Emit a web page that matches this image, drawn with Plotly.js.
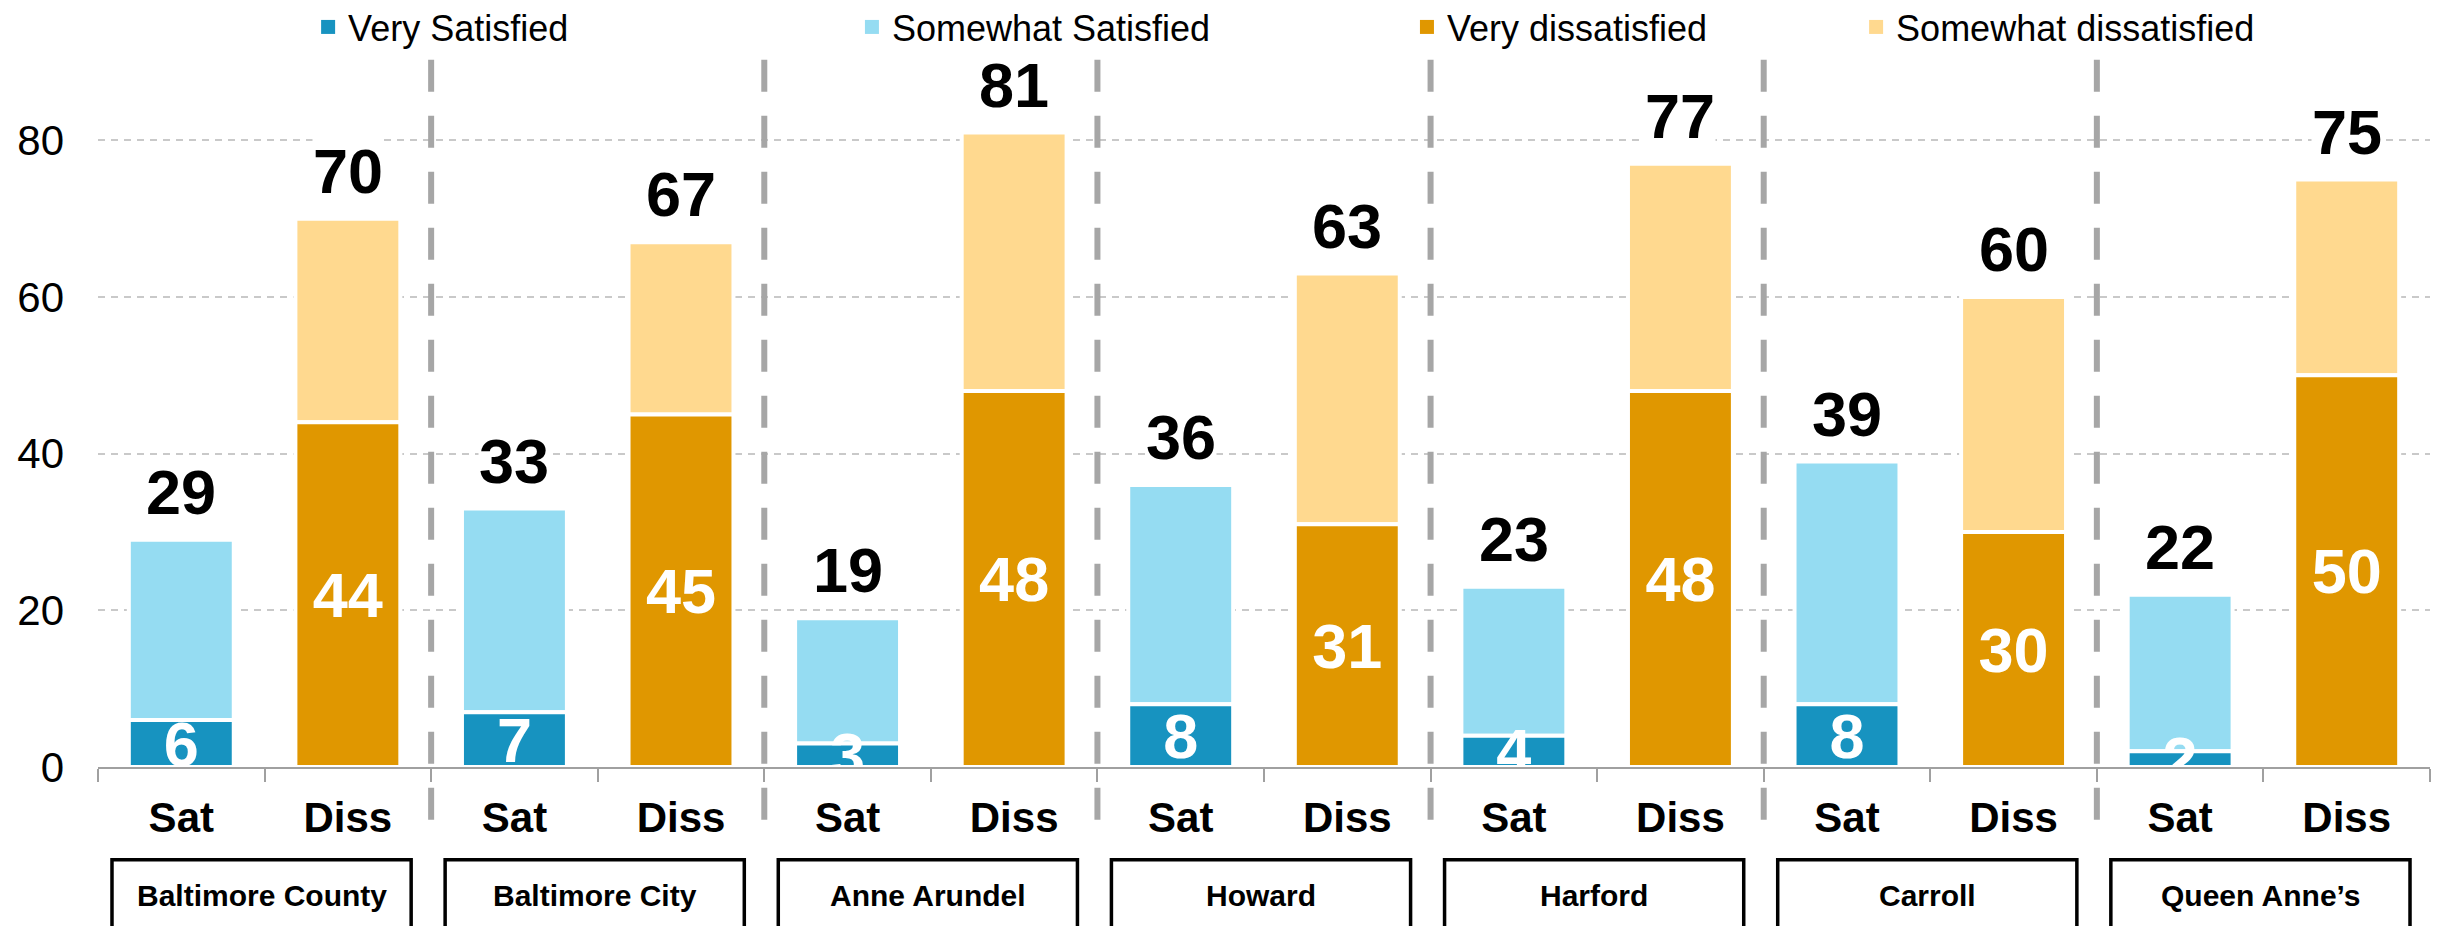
<!DOCTYPE html>
<html>
<head>
<meta charset="utf-8">
<script src="https://cdn.plot.ly/plotly-3.0.1.min.js"></script>
<style>html,body{margin:0;padding:0;background:#fff;}#chart{width:2438px;height:926px;}</style>
</head>
<body>
<div id="chart"></div>
<script>
// ---- data ----
const counties = ['Baltimore County', 'Baltimore City', 'Anne Arundel', 'Howard', 'Harford', 'Carroll', 'Queen Anne’s'];
const barLabels = ['Sat', 'Diss'];
const verySatisfied = [6, 7, 3, 8, 4, 8, 2];
const somewhatSatisfied = [23, 26, 16, 28, 19, 31, 20];
const veryDissatisfied = [44, 45, 48, 31, 48, 30, 50];
const somewhatDissatisfied = [26, 22, 33, 32, 29, 30, 25];
const satTotals = [29, 33, 19, 36, 23, 39, 22];
const dissTotals = [70, 67, 81, 63, 77, 60, 75];
const yTicks = [0, 20, 40, 60, 80];
const seriesNames = ['Very Satisfied', 'Somewhat Satisfied', 'Very dissatisfied', 'Somewhat dissatisfied'];

// ---- styles ----
const FONT = 'Liberation Sans, Arial, sans-serif';
const COLORS = ['#1793C0', '#95DCF2', '#E09700', '#FFD98F'];
const LEGENDS = ['legend', 'legend2', 'legend3', 'legend4'];

const satKeys = counties.map(c => c + ' | ' + barLabels[0]);
const dissKeys = counties.map(c => c + ' | ' + barLabels[1]);
const allKeys = counties.flatMap((c, i) => [satKeys[i], dissKeys[i]]);
const allText = counties.flatMap(() => barLabels);

const lineW = 4;
function bar(name, x, y, base, color, withText) {
  const t = {type: 'bar', name: name, x: x, y: y, base: base, hoverinfo: 'skip', showlegend: false,
    cliponaxis: true, marker: {color: color, line: {color: '#ffffff', width: lineW}}};
  if (withText) {
    Object.assign(t, {text: y.map(String), textposition: 'inside', insidetextanchor: 'middle', textangle: 0,
      constraintext: 'none', textfont: {family: FONT, size: 63, color: '#ffffff', weight: 'bold'}});
  }
  return t;
}

const traces = [
  bar(seriesNames[1], satKeys, somewhatSatisfied, verySatisfied, COLORS[1], false),
  bar(seriesNames[0], satKeys, verySatisfied, verySatisfied.map(() => 0), COLORS[0], true),
  bar(seriesNames[3], dissKeys, somewhatDissatisfied, veryDissatisfied, COLORS[3], false),
  bar(seriesNames[2], dissKeys, veryDissatisfied, veryDissatisfied.map(() => 0), COLORS[2], true)
];
// legend entries (one legend box per series, positioned like the reference)
seriesNames.forEach((n, i) => {
  traces.push({type: 'scatter', mode: 'markers', name: n, x: [null], y: [null], hoverinfo: 'skip',
    legend: LEGENDS[i], showlegend: true,
    marker: {symbol: 'square', size: 14, color: COLORS[i], line: {width: 0}}});
});

// total labels above bars
const annotations = [];
counties.forEach((c, i) => {
  [[satKeys[i], satTotals[i]], [dissKeys[i], dissTotals[i]]].forEach(([k, v]) => {
    annotations.push({x: k, y: v, xref: 'x', yref: 'y', text: String(v), showarrow: false,
      yanchor: 'bottom', yshift: 12, bgcolor: '#ffffff', borderpad: 0,
      font: {family: FONT, size: 63, color: '#000000', weight: 'bold'}});
  });
  // county name in its box
  annotations.push({x: 2 * i + 0.482, y: -0.1826, xref: 'x', yref: 'paper', text: c, showarrow: false,
    xanchor: 'center', yanchor: 'middle', font: {family: FONT, size: 30, color: '#000000', weight: 'bold'}});
});

const shapes = [];
counties.forEach((c, i) => {
  shapes.push({type: 'rect', xref: 'x', yref: 'paper', x0: 2 * i - 0.416, x1: 2 * i + 1.38, y0: -0.1315, y1: -0.3,
    line: {color: '#000000', width: 3.5}, fillcolor: 'rgba(0,0,0,0)', layer: 'above'});
  if (i < counties.length - 1) {
    shapes.push({type: 'line', xref: 'x', yref: 'paper', x0: 2 * i + 1.5, x1: 2 * i + 1.5, y0: 1.0033, y1: -0.1003,
      line: {color: '#A6A6A6', width: 6, dash: '32px,24px'}, layer: 'above'});
  }
});

const legendBase = {orientation: 'h', xanchor: 'left', yanchor: 'middle', y: 1.0496, bgcolor: 'rgba(0,0,0,0)',
  font: {family: FONT, size: 36, color: '#000000'}, itemclick: false, itemdoubleclick: false};

const layout = {
  width: 2438, height: 926,
  margin: {l: 98, r: 8, t: 62, b: 159, pad: 0, autoexpand: false},
  paper_bgcolor: '#ffffff', plot_bgcolor: '#ffffff',
  font: {family: FONT, color: '#000000'},
  barmode: 'overlay', bargap: 0.37,
  showlegend: true,
  legend: Object.assign({}, legendBase, {x: 0.0901}),
  legend2: Object.assign({}, legendBase, {x: 0.3233}),
  legend3: Object.assign({}, legendBase, {x: 0.5613}),
  legend4: Object.assign({}, legendBase, {x: 0.7539}),
  xaxis: {
    type: 'category', categoryorder: 'array', categoryarray: allKeys,
    tickmode: 'array', tickvals: allKeys, ticktext: allText,
    tickfont: {family: FONT, size: 42, color: '#000000', weight: 'bold'},
    ticks: 'outside', tickson: 'boundaries', ticklen: 13, tickwidth: 2, tickcolor: '#A0A0A0',
    showline: true, linecolor: '#A0A0A0', linewidth: 2, showgrid: false, zeroline: false,
    ticklabelstandoff: 13, fixedrange: true
  },
  yaxis: {
    range: [0, 90], tickmode: 'array', tickvals: yTicks, ticktext: yTicks.map(String),
    tickfont: {family: FONT, size: 42, color: '#000000'},
    ticks: '', showline: false, zeroline: false,
    showgrid: true, gridcolor: '#C9C9C9', gridwidth: 2, griddash: '7px,6px',
    ticklabelstandoff: 33, fixedrange: true
  },
  annotations: annotations,
  shapes: shapes
};

Plotly.newPlot('chart', traces, layout, {displayModeBar: false, staticPlot: true});
</script>
</body>
</html>
